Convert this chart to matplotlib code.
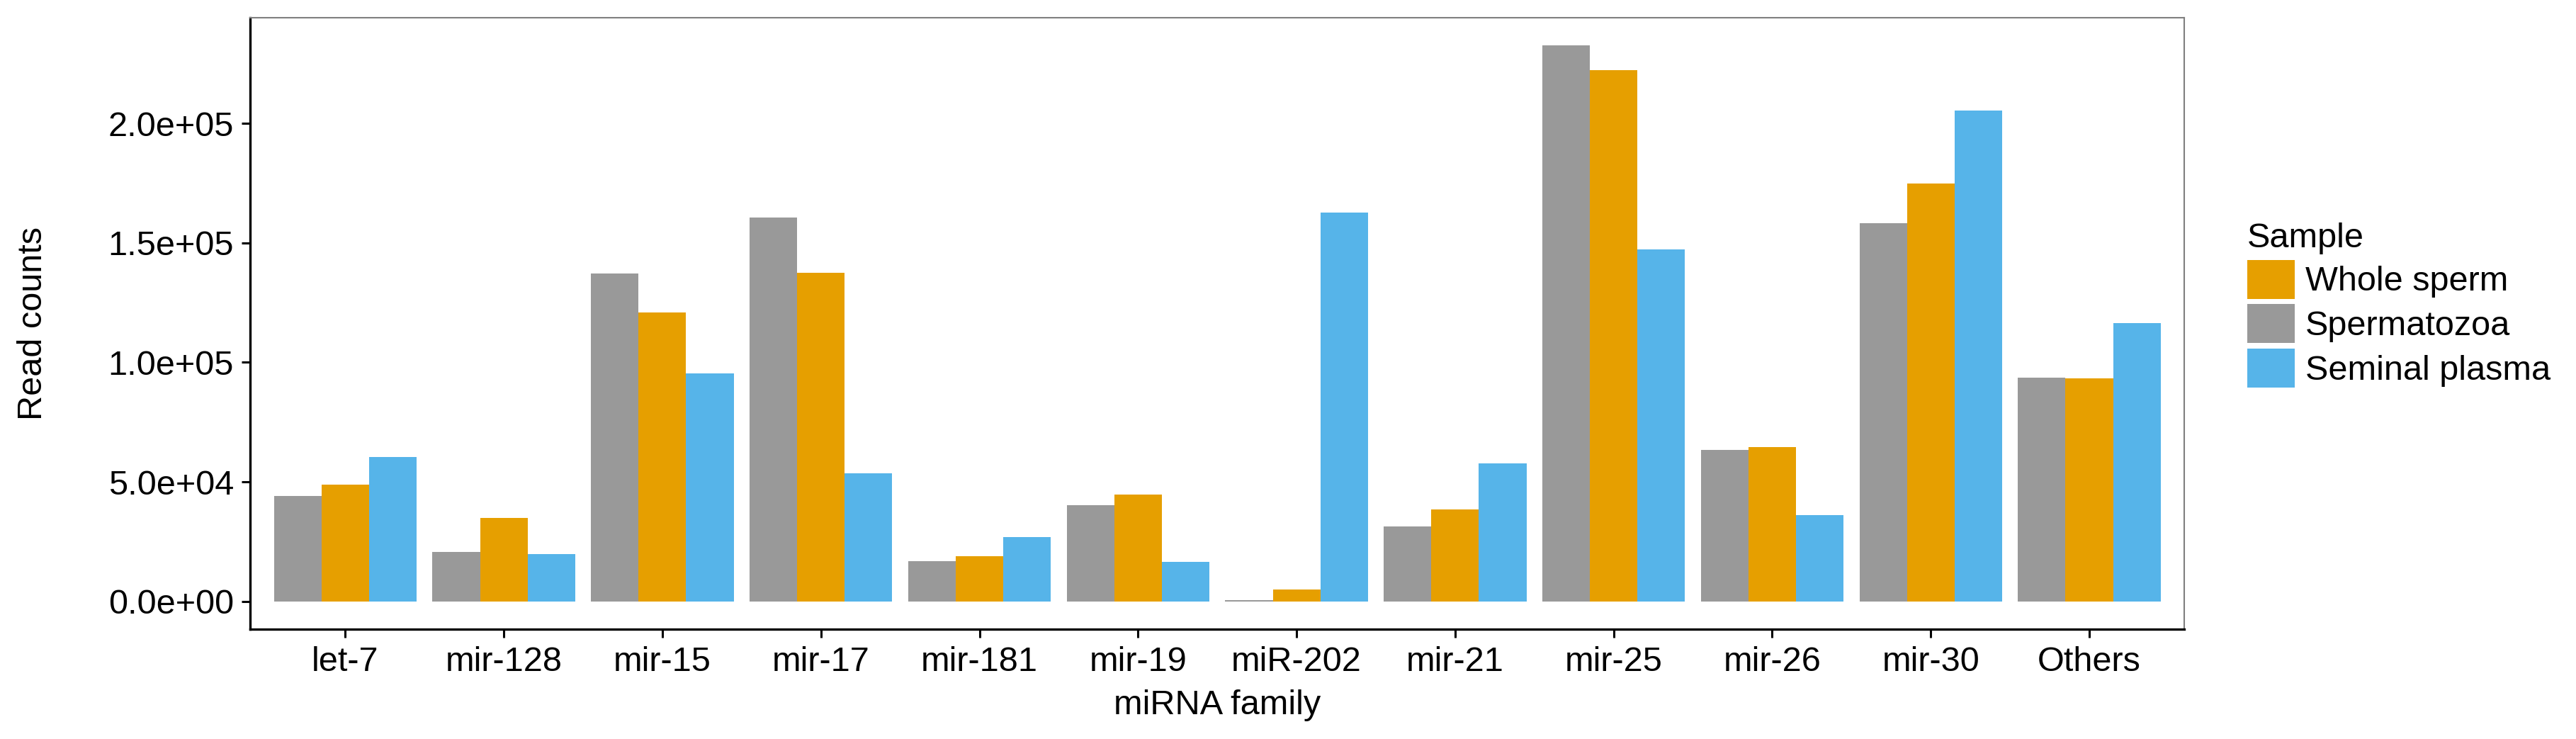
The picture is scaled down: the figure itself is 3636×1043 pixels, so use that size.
import numpy as np
import matplotlib
matplotlib.use("Agg")
import matplotlib.pyplot as plt

plt.rcParams['font.family'] = ['Liberation Sans', 'DejaVu Sans']

# miRNA families and read counts per sample
families = ['let-7', 'mir-128', 'mir-15', 'mir-17', 'mir-181', 'mir-19',
            'miR-202', 'mir-21', 'mir-25', 'mir-26', 'mir-30', 'Others']
spermatozoa = [44000, 20600, 137300, 160500, 16700, 40300,
               400, 31300, 232600, 63500, 158300, 93600]
whole_sperm = [49000, 34800, 120900, 137500, 18900, 44800,
               4900, 38500, 222400, 64700, 174800, 93200]
seminal_plasma = [60500, 19700, 95400, 53500, 26900, 16500,
                  162800, 57800, 147300, 36000, 205500, 116400]

series = [('Spermatozoa', spermatozoa, '#999999'),
          ('Whole sperm', whole_sperm, '#E69F00'),
          ('Seminal plasma', seminal_plasma, '#56B4E9')]
legend_order = ['Whole sperm', 'Spermatozoa', 'Seminal plasma']

FS = 35

fig = plt.figure(figsize=(36.36, 10.43), dpi=100)
ax = fig.add_axes([0.0971, 0.1486, 0.848 - 0.0971, 0.976 - 0.1486])

x = np.arange(len(families))
w = 0.3
handles = {}
for i, (name, vals, col) in enumerate(series):
    b = ax.bar(x + (i - 1) * w, vals, width=w, color=col, label=name)
    handles[name] = b

ymax = max(max(spermatozoa), max(whole_sperm), max(seminal_plasma))
ax.set_ylim(-0.05 * ymax, 1.05 * ymax)
ax.set_xlim(-0.6, len(families) - 0.4)

ax.set_xticks(x)
ax.set_xticklabels(families)
yt = [0, 50000, 100000, 150000, 200000]
ax.set_yticks(yt)
ax.set_yticklabels(['0.0e+00', '5.0e+04', '1.0e+05', '1.5e+05', '2.0e+05'])
ax.tick_params(axis='both', labelsize=FS, colors='black', length=8.6, width=2.2)
ax.tick_params(axis='x', pad=9)
ax.tick_params(axis='y', pad=8)

for s in ['top', 'right']:
    ax.spines[s].set_color('#7f7f7f')
    ax.spines[s].set_linewidth(1.5)
for s in ['left', 'bottom']:
    ax.spines[s].set_color('black')
    ax.spines[s].set_linewidth(2.4)

ax.set_xlabel('miRNA family', fontsize=FS)
ax.set_ylabel('Read counts', fontsize=FS)
ax.xaxis.set_label_coords(0.5, -0.098)
ax.yaxis.set_label_coords(-0.104, 0.5)

leg = fig.legend([handles[n] for n in legend_order], legend_order,
                 title='Sample', loc='upper left',
                 bbox_to_anchor=(3172 / 3636, 1 - 314 / 1043),
                 frameon=False, fontsize=FS, title_fontsize=FS,
                 handlelength=1.38, handleheight=1.36, labelspacing=0.16,
                 handletextpad=0.3, borderpad=0, borderaxespad=0)
leg._legend_box.align = 'left'

fig.savefig('out.png', dpi=100)
